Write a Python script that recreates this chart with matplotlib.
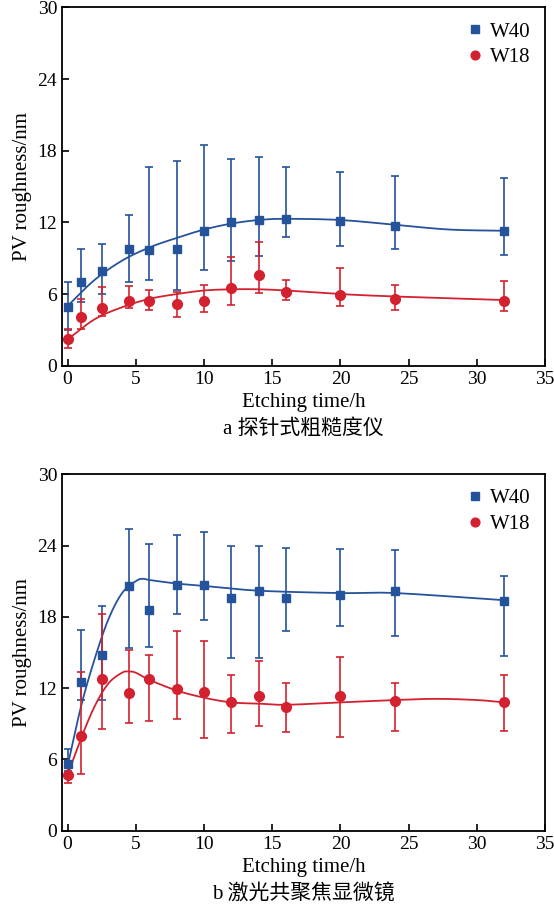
import numpy as np
import matplotlib
matplotlib.use("Agg")
import matplotlib.pyplot as plt

plt.rcParams['font.family'] = ['Liberation Serif', 'Noto Sans CJK SC']

x = [0, 1, 2.5, 4.5, 6, 8, 10, 12, 14, 16, 20, 24, 32]

# panel a
a_w40 = [4.9, 7.0, 7.9, 9.8, 9.7, 9.8, 11.3, 12.0, 12.2, 12.3, 12.1, 11.7, 11.3]
a_w40_hi = [7.0, 9.8, 10.2, 12.6, 16.6, 17.1, 18.5, 17.3, 17.5, 16.6, 16.2, 15.9, 15.7]
a_w40_lo = [3.0, 5.3, 6.0, 7.0, 7.2, 6.3, 8.0, 8.8, 9.2, 10.8, 10.0, 9.8, 9.3]
a_w18 = [2.2, 4.1, 4.8, 5.4, 5.4, 5.2, 5.4, 6.5, 7.6, 6.2, 5.9, 5.6, 5.4]
a_w18_hi = [3.1, 5.6, 6.6, 6.7, 6.3, 6.2, 6.8, 9.1, 10.4, 7.2, 8.2, 6.8, 7.1]
a_w18_lo = [1.5, 3.1, 4.2, 4.8, 4.7, 4.1, 4.5, 5.1, 6.1, 5.5, 5.0, 4.7, 4.6]
a_fit40_x = [0, 2, 4, 6, 8, 10, 12, 14, 16, 20, 24, 28, 32]
a_fit40_y = [5.0, 7.2, 8.8, 9.9, 10.7, 11.4, 11.9, 12.2, 12.3, 12.2, 11.8, 11.4, 11.3]
a_fit18_x = [0, 2, 4, 6, 8, 10, 12, 14, 16, 20, 24, 32]
a_fit18_y = [2.2, 3.9, 4.9, 5.6, 6.0, 6.3, 6.4, 6.4, 6.3, 6.0, 5.8, 5.5]

# panel b
b_w40 = [5.6, 12.5, 14.8, 20.6, 18.6, 20.7, 20.7, 19.6, 20.2, 19.6, 19.8, 20.2, 19.3]
b_w40_hi = [6.9, 16.9, 18.9, 25.4, 24.1, 24.9, 25.1, 24.0, 24.0, 23.8, 23.7, 23.6, 21.4]
b_w40_lo = [5.0, 11.0, 11.0, 15.4, 15.5, 18.2, 17.7, 14.5, 14.5, 16.8, 17.2, 16.4, 14.7]
b_w18 = [4.7, 8.0, 12.8, 11.6, 12.8, 11.9, 11.7, 10.8, 11.3, 10.4, 11.3, 10.9, 10.8]
b_w18_hi = [5.3, 13.4, 18.2, 15.2, 14.8, 16.8, 16.0, 13.1, 14.3, 12.4, 14.6, 12.4, 13.1]
b_w18_lo = [4.0, 4.8, 8.6, 9.1, 9.2, 9.4, 7.8, 8.2, 8.8, 8.3, 7.9, 8.4, 8.4]
b_fit40_x = [0, 1, 2, 3, 4, 5, 5.5, 6, 8, 10, 14, 20, 24, 32]
b_fit40_y = [5.4, 10.5, 14.5, 17.8, 20.0, 21.0, 21.2, 21.1, 20.8, 20.6, 20.2, 20.0, 20.0, 19.4]
b_fit18_x = [0, 1, 2, 3, 4, 4.5, 5, 6, 8, 10, 12, 14, 16, 20, 24, 27, 30, 32]
b_fit18_y = [4.7, 7.8, 10.5, 12.4, 13.3, 13.4, 13.3, 12.7, 11.8, 11.2, 10.8, 10.7, 10.6, 10.8, 11.0, 11.1, 11.0, 10.8]

BLUE = '#25539b'
RED = '#d3212f'


def smooth(xk, yk, n=30):
    xk = np.asarray(xk, float); yk = np.asarray(yk, float)
    px = np.concatenate([[2*xk[0]-xk[1]], xk, [2*xk[-1]-xk[-2]]])
    py = np.concatenate([[2*yk[0]-yk[1]], yk, [2*yk[-1]-yk[-2]]])
    ox, oy = [], []
    for i in range(1, len(xk)):
        t = np.linspace(0, 1, n)
        for arr, out in ((px, ox), (py, oy)):
            p0, p1, p2, p3 = arr[i-1], arr[i], arr[i+1], arr[i+2]
            out.extend(0.5*((2*p1) + (-p0+p2)*t + (2*p0-5*p1+4*p2-p3)*t**2 + (-p0+3*p1-3*p2+p3)*t**3))
    return ox, oy


def panel(ax, w40, hi40, lo40, w18, hi18, lo18, f40, f18, yticks, caption):
    sx, sy = smooth(*f40); ax.plot(sx, sy, color=BLUE, lw=1.3, zorder=2)
    sx, sy = smooth(*f18); ax.plot(sx, sy, color=RED, lw=1.3, zorder=2)
    w40 = np.array(w40); w18 = np.array(w18)
    ax.errorbar(x, w40, yerr=[w40-np.array(lo40), np.array(hi40)-w40], fmt='none',
                ecolor=BLUE, elinewidth=1.2, capsize=3, capthick=1.2, zorder=3)
    ax.errorbar(x, w18, yerr=[w18-np.array(lo18), np.array(hi18)-w18], fmt='none',
                ecolor=RED, elinewidth=1.2, capsize=3, capthick=1.2, zorder=3)
    ax.plot(x, w40, 's', color=BLUE, ms=6, ls='none', label='W40', zorder=4)
    ax.plot(x, w18, 'o', color=RED, ms=7, ls='none', label='W18', zorder=4)
    ax.set_xlim(-0.4, 35)
    ax.set_ylim(0, 30)
    ax.set_xticks([0, 5, 10, 15, 20, 25, 30, 35])
    ax.set_yticks(yticks)
    ax.tick_params(direction='in', labelsize=14, length=5, width=1.2)
    for s in ax.spines.values():
        s.set_linewidth(1.3)
    ax.set_xlabel('Etching time/h\n' + caption, fontsize=15, linespacing=1.45)
    ax.set_ylabel('PV roughness/nm', fontsize=15)
    ax.legend(loc='upper right', frameon=False, fontsize=15, handletextpad=0.2,
              borderaxespad=0.3, markerscale=0.9, handlelength=1.0, labelspacing=0.3)


fig = plt.figure(figsize=(5.54, 9.19), dpi=100)
ax1 = fig.add_axes([0.112, 0.602, 0.872, 0.39])
ax2 = fig.add_axes([0.112, 0.096, 0.872, 0.388])
panel(ax1, a_w40, a_w40_hi, a_w40_lo, a_w18, a_w18_hi, a_w18_lo,
      (a_fit40_x, a_fit40_y), (a_fit18_x, a_fit18_y), [0, 6, 12, 18, 24, 30], 'a 探针式粗糙度仪')
panel(ax2, b_w40, b_w40_hi, b_w40_lo, b_w18, b_w18_hi, b_w18_lo,
      (b_fit40_x, b_fit40_y), (b_fit18_x, b_fit18_y), [0, 6, 12, 18, 24, 30], 'b 激光共聚焦显微镜')
fig.savefig('out.png', dpi=100)
